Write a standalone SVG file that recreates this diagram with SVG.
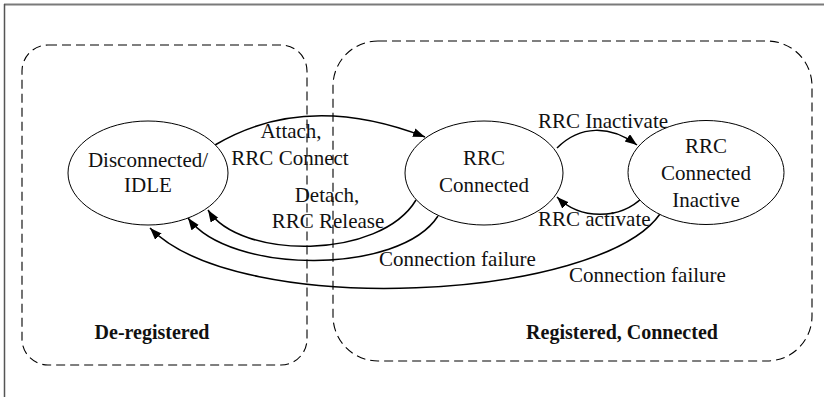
<svg xmlns="http://www.w3.org/2000/svg" width="824" height="397" viewBox="0 0 824 397">
<defs>
<style>
.frame{stroke:#7a7a7a;fill:none}
.zone{fill:none;stroke:#000;stroke-width:1.1;stroke-dasharray:9,5}
.state{fill:#fff;stroke:#000;stroke-width:1}
.edge{fill:none;stroke:#000;stroke-width:1.5}
text{font-family:"Liberation Serif","Times New Roman",serif;fill:#111}
.lbl{font-size:21px}
.st{font-size:21px;text-anchor:middle}
.zt{font-size:20px;font-weight:bold;text-anchor:middle}
</style>
<marker id="arr" markerUnits="userSpaceOnUse" markerWidth="13" markerHeight="10" refX="12" refY="4.5" orient="auto">
<path d="M0,0 L12,4.5 L0,9 z" fill="#000"/>
</marker>
</defs>
<rect width="824" height="397" fill="#fff"/>
<g id="frame">
<line class="frame" x1="4" y1="4.5" x2="824" y2="4.5" stroke-width="2"/>
<line class="frame" x1="4.5" y1="4" x2="4.5" y2="397" stroke-width="1.5" style="stroke:#555"/>
</g>
<g id="zone-deregistered">
<rect class="zone" x="22" y="45" width="285" height="320" rx="26" ry="26"/>
<text class="zt" x="152" y="339">De-registered</text>
</g>
<g id="zone-registered">
<rect class="zone" x="333" y="41" width="479" height="320" rx="45" ry="45"/>
<text class="zt" x="622" y="339">Registered, Connected</text>
</g>
<g id="connectors">
<path class="edge" d="M215,145 Q306,91 425,137" marker-end="url(#arr)"/>
<path class="edge" d="M416,200 C380,260 240,260 208,210" marker-end="url(#arr)"/>
<path class="edge" d="M438,216 C400,275 230,275 188,218" marker-end="url(#arr)"/>
<path class="edge" d="M660,214 C600,300 240,320 150,228" marker-end="url(#arr)"/>
<path class="edge" d="M557,148 C580,125 610,125 637,145" marker-end="url(#arr)"/>
<path class="edge" d="M643,197 C620,220 580,220 557,197" marker-end="url(#arr)"/>
<text class="lbl" x="291" y="138" text-anchor="middle">Attach,</text>
<text class="lbl" x="290" y="165" text-anchor="middle">RRC Connect</text>
<text class="lbl" x="327" y="202" text-anchor="middle">Detach,</text>
<text class="lbl" x="328" y="228" text-anchor="middle">RRC Release</text>
<text class="lbl" x="538" y="128">RRC Inactivate</text>
<text class="lbl" x="538" y="226">RRC activate</text>
<text class="lbl" x="379" y="266">Connection failure</text>
<text class="lbl" x="569" y="282">Connection failure</text>
</g>
<g id="state-idle">
<ellipse class="state" cx="148" cy="173" rx="80" ry="52"/>
<text class="st" x="148" y="167">Disconnected/</text>
<text class="st" x="148" y="192">IDLE</text>
</g>
<g id="state-connected">
<ellipse class="state" cx="484" cy="173" rx="79" ry="52"/>
<text class="st" x="484" y="165">RRC</text>
<text class="st" x="484" y="192">Connected</text>
</g>
<g id="state-inactive">
<ellipse class="state" cx="706" cy="172.5" rx="78" ry="52"/>
<text class="st" x="706" y="153">RRC</text>
<text class="st" x="706" y="180">Connected</text>
<text class="st" x="706" y="207">Inactive</text>
</g>
</svg>
